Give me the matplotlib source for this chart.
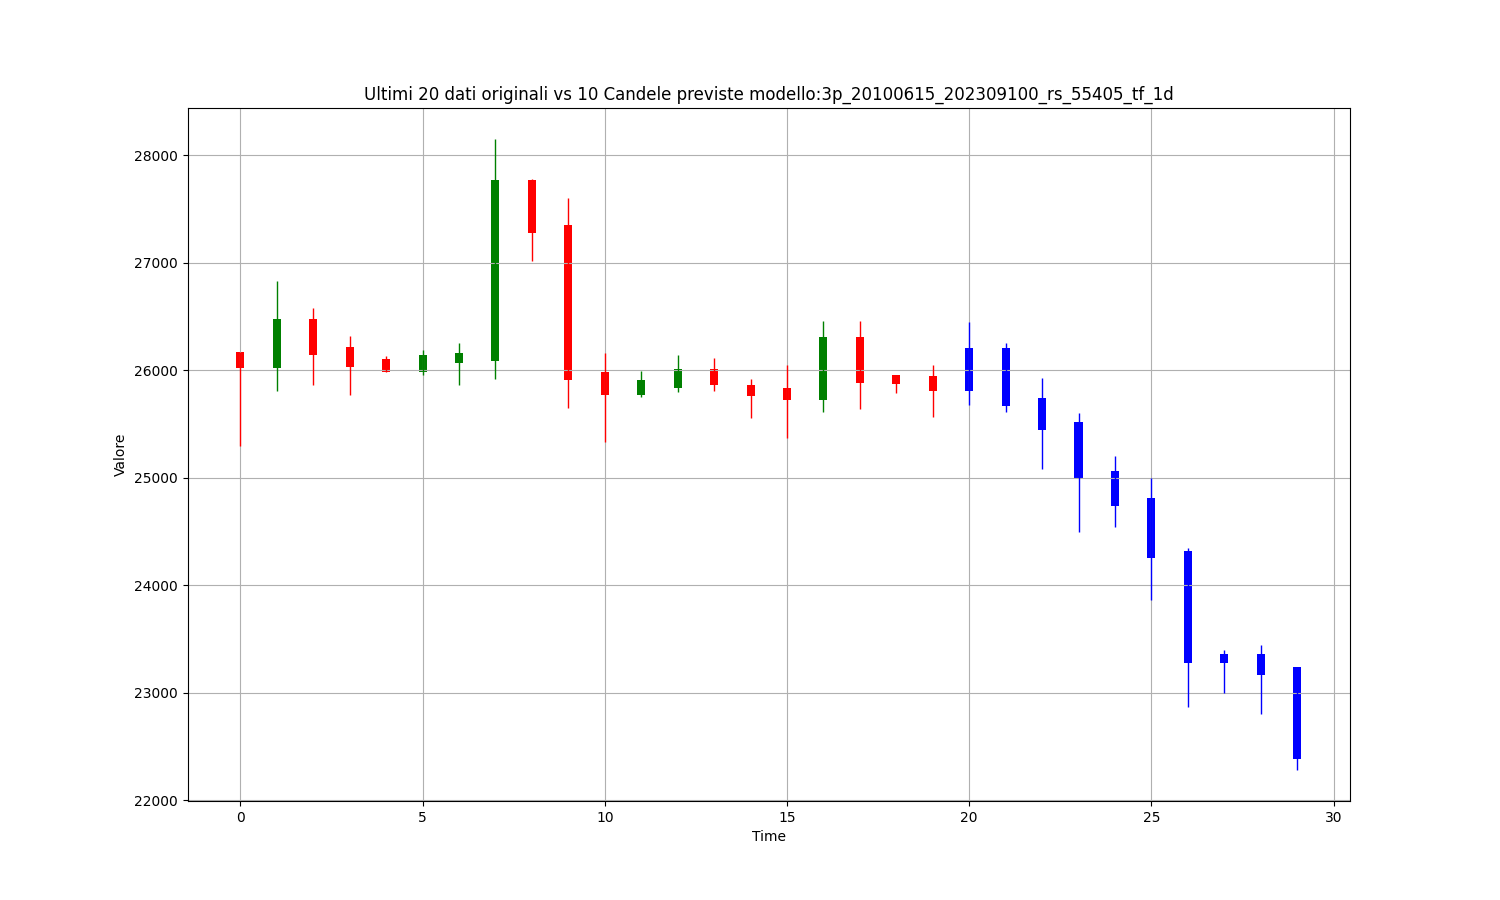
import matplotlib
matplotlib.use("Agg")
import matplotlib.pyplot as plt
import numpy as np

# Original candles (last 20) and predicted candles (10)
orig_open  = [26171, 26025, 26480, 26218, 26106, 25984, 26069, 26090, 27769, 27349,
              25984, 25773, 25838, 26016, 25863, 25835, 25726, 26305, 25960, 25950]
orig_close = [26025, 26480, 26143, 26034, 25984, 26143, 26162, 27769, 27274, 25910,
              25773, 25910, 26016, 25866, 25763, 25726, 26305, 25885, 25875, 25810]
orig_high  = [26171, 26826, 26583, 26321, 26134, 26190, 26255, 28145, 27779, 27601,
              26159, 25997, 26143, 26115, 25919, 26044, 26455, 26455, 25960, 26044]
orig_low   = [25296, 25810, 25863, 25769, 25984, 25960, 25863, 25922, 27012, 25651,
              25333, 25754, 25800, 25810, 25558, 25371, 25614, 25642, 25791, 25567]

pred_open  = [26208, 26208, 25742, 25518, 25061, 24809, 24323, 23362, 23362, 23244]
pred_close = [25810, 25667, 25443, 24986, 24734, 24252, 23282, 23282, 23170, 22385]
pred_high  = [26445, 26255, 25928, 25602, 25201, 24995, 24351, 23400, 23449, 23244]
pred_low   = [25677, 25611, 25079, 24495, 24547, 23860, 22871, 23001, 22806, 22288]

title = "Ultimi 20 dati originali vs 10 Candele previste modello:3p_20100615_202309100_rs_55405_tf_1d"

fig, ax = plt.subplots(figsize=(15, 9), dpi=100)

n_orig = len(orig_open)
x_orig = np.arange(n_orig)
x_pred = np.arange(n_orig, n_orig + len(pred_open))
width = 0.22

o = np.array(orig_open); c = np.array(orig_close)
cols = ['green' if cc >= oo else 'red' for oo, cc in zip(o, c)]
ax.vlines(x_orig, orig_low, orig_high, colors=cols, linewidth=1)
ax.bar(x_orig, np.abs(c - o), bottom=np.minimum(o, c), width=width, color=cols)

po = np.array(pred_open); pc = np.array(pred_close)
ax.vlines(x_pred, pred_low, pred_high, colors='blue', linewidth=1)
ax.bar(x_pred, np.abs(pc - po), bottom=np.minimum(po, pc), width=width, color='blue')

x_all = np.concatenate([x_orig, x_pred])
span = x_all[-1] - x_all[0]
ax.set_xlim(x_all[0] - 0.05 * span, x_all[-1] + 0.05 * span)

ax.set_title(title)
ax.set_xlabel("Time")
ax.set_ylabel("Valore")
ax.grid(True)

fig.savefig("out.png")
